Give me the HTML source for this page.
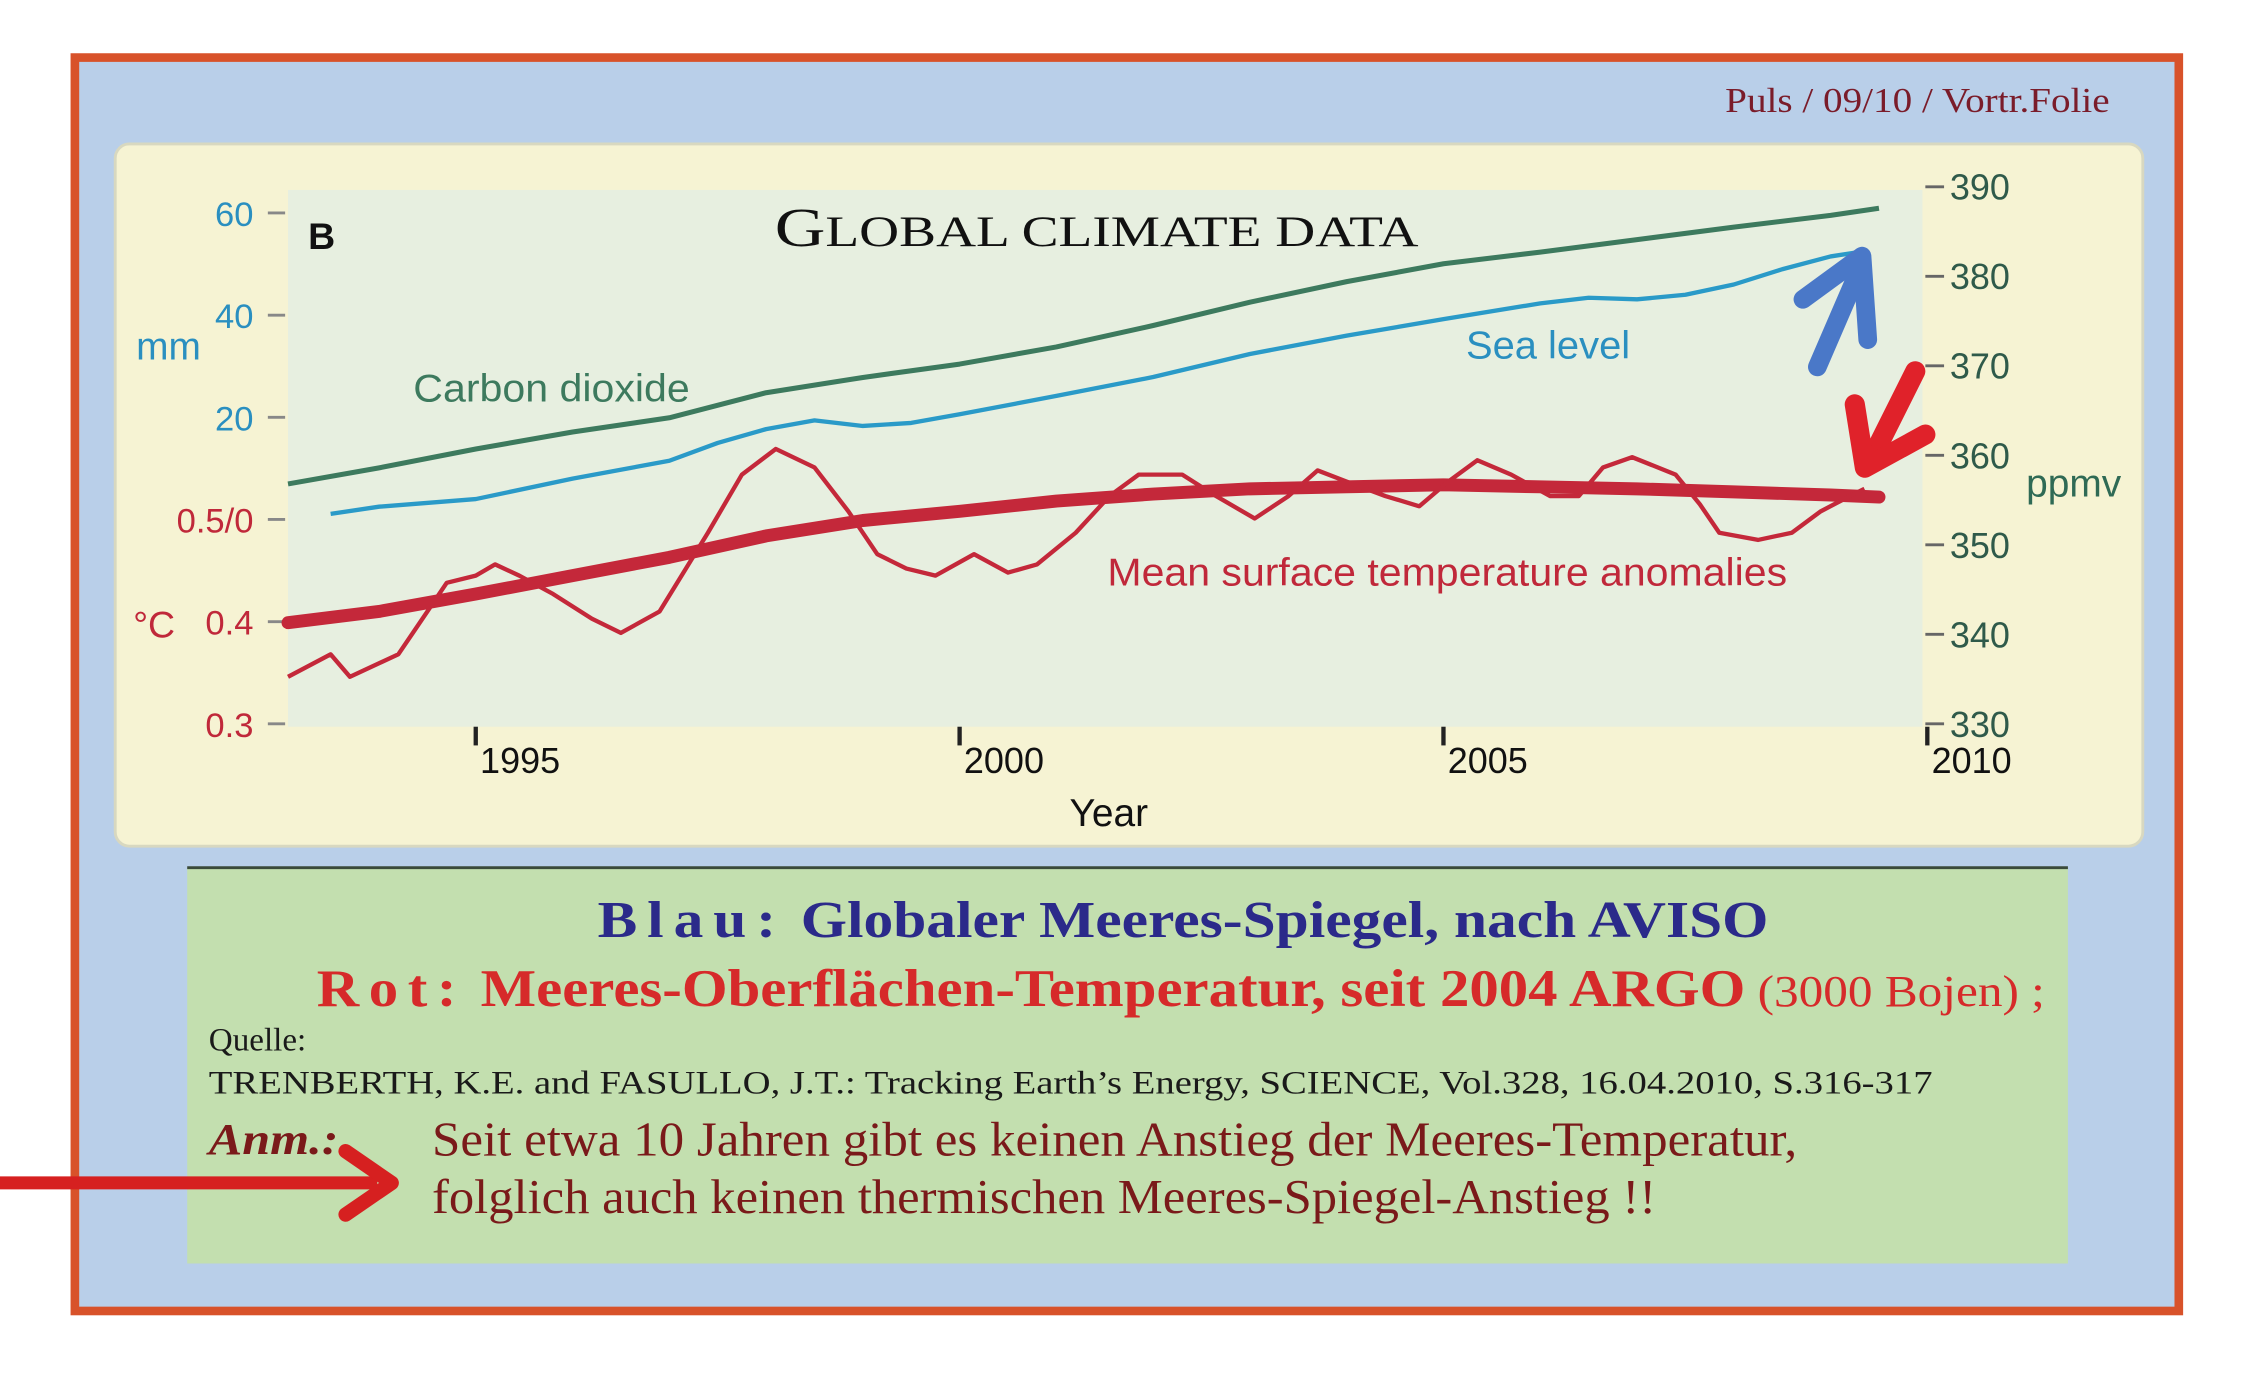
<!DOCTYPE html>
<html><head><meta charset="utf-8">
<style>
html,body{margin:0;padding:0;background:#fff;}
svg{display:block;}
.ser{font-family:"Liberation Serif",serif;}
.san{font-family:"Liberation Sans",sans-serif;}
</style></head>
<body>
<svg id="root" width="2258" height="1393" viewBox="0 0 1568 968" preserveAspectRatio="none" xmlns="http://www.w3.org/2000/svg">
  <rect x="0" y="0" width="1568" height="968" fill="#ffffff"/>
  <rect x="52" y="40" width="1461" height="871" fill="#b9cfe9" stroke="#d8522a" stroke-width="6"/>
  <text x="1465" y="78" text-anchor="end" class="ser" font-size="24" fill="#7a1c2a" textLength="267" lengthAdjust="spacingAndGlyphs">Puls / 09/10 / Vortr.Folie</text>

  <rect x="80" y="100" width="1408" height="488" rx="10" fill="#f6f3d3" stroke="#d8d8c0" stroke-width="2"/>
  <rect x="200" y="132" width="1135" height="373" fill="#e7efe0"/>
  <g id="axes"></g>
  <g id="marks"></g>

  <text x="538" y="171" class="ser" fill="#111" textLength="447" lengthAdjust="spacingAndGlyphs"><tspan font-size="38">G</tspan><tspan font-size="30">LOBAL CLIMATE DATA</tspan></text>
  <text x="214" y="173" class="san" font-size="26" font-weight="bold" fill="#111">B</text>
  <text x="383" y="279" text-anchor="middle" class="san" font-size="27" fill="#3d7a5e" textLength="192" lengthAdjust="spacingAndGlyphs">Carbon dioxide</text>
  <text x="1075" y="249" text-anchor="middle" class="san" font-size="27" fill="#2a8fc0" textLength="114" lengthAdjust="spacingAndGlyphs">Sea level</text>
  <text x="1005" y="407" text-anchor="middle" class="san" font-size="27" fill="#c0283a" textLength="472" lengthAdjust="spacingAndGlyphs">Mean surface temperature anomalies</text>
  <text x="117" y="250" text-anchor="middle" class="san" font-size="27" fill="#2a8fc0">mm</text>
  <text x="107" y="443" text-anchor="middle" class="san" font-size="26" fill="#c0283a">°C</text>
  <text x="1440" y="345" text-anchor="middle" class="san" font-size="27" fill="#2f6a55">ppmv</text>
  <text x="770" y="574" text-anchor="middle" class="san" font-size="27" fill="#111">Year</text>

  <g>
    <line x1="1262" y1="255" x2="1290" y2="190" stroke="#4a78c8" stroke-width="13" stroke-linecap="round"/>
    <polyline points="1252,208 1293,178 1297,236" fill="none" stroke="#4a78c8" stroke-width="13" stroke-linecap="round" stroke-linejoin="round"/>
  </g>
  <g>
    <line x1="1330" y1="258" x2="1298" y2="322" stroke="#e0222a" stroke-width="14" stroke-linecap="round"/>
    <polyline points="1288,281 1295,325 1337,302" fill="none" stroke="#e0222a" stroke-width="14" stroke-linecap="round" stroke-linejoin="round"/>
  </g>

  <rect x="130" y="603" width="1306" height="275" fill="#c3dfaf"/>
  <line x1="130" y1="603" x2="1436" y2="603" stroke="#3a4a3a" stroke-width="2"/>
  <text x="415" y="651" class="ser" font-size="36" font-weight="bold" fill="#2b2a8a" textLength="813" lengthAdjust="spacingAndGlyphs"><tspan letter-spacing="6">Blau:</tspan><tspan>  Globaler Meeres-Spiegel, nach AVISO</tspan></text>
  <text x="220" y="699" class="ser" font-size="37" fill="#d62a2a" textLength="1200" lengthAdjust="spacingAndGlyphs"><tspan font-weight="bold" letter-spacing="6">Rot:</tspan><tspan font-weight="bold"> Meeres-Oberflächen-Temperatur, seit 2004 ARGO</tspan><tspan font-size="31"> (3000 Bojen) ;</tspan></text>
  <text x="145" y="730" class="ser" font-size="23" fill="#1a1a1a">Quelle:</text>
  <text x="145" y="760" class="ser" font-size="23" fill="#1a1a1a" textLength="1197" lengthAdjust="spacingAndGlyphs">TRENBERTH, K.E. and FASULLO, J.T.:  Tracking Earth’s Energy, SCIENCE, Vol.328, 16.04.2010, S.316-317</text>
  <text x="145" y="802" class="ser" font-size="31" font-weight="bold" font-style="italic" fill="#7a1a1a" textLength="90" lengthAdjust="spacingAndGlyphs">Anm.:</text>
  <text x="300" y="803" class="ser" font-size="34" fill="#7a1a1a" textLength="948" lengthAdjust="spacingAndGlyphs">Seit etwa 10 Jahren gibt es keinen Anstieg der Meeres-Temperatur,</text>
  <text x="300" y="843" class="ser" font-size="34" fill="#7a1a1a" textLength="850" lengthAdjust="spacingAndGlyphs">folglich auch keinen thermischen Meeres-Spiegel-Anstieg !!</text>
  <g>
    <line x1="0" y1="822" x2="262" y2="822" stroke="#d62020" stroke-width="9"/>
    <polyline points="240,800 272,822 240,844" fill="none" stroke="#d62020" stroke-width="10" stroke-linejoin="round" stroke-linecap="round"/>
  </g>
</svg>
<script>
const NS='http://www.w3.org/2000/svg';
// ---- data ----
const co2Years=[1993.06,1994,1995,1996,1997,1998,1999,2000,2001,2002,2003,2004,2005,2006,2007,2008,2009,2009.5];
const co2Values=[356.8,358.6,360.7,362.6,364.2,367.0,368.7,370.2,372.1,374.5,377.1,379.4,381.4,382.7,384.1,385.5,386.8,387.6];
const seaYears=[1993.5,1994,1995,1996,1997,1997.5,1998,1998.5,1999,1999.5,2000,2001,2002,2003,2004,2005,2006,2006.5,2007,2007.5,2008,2008.5,2009,2009.28];
const seaValues=[1.1,2.5,4.0,8.0,11.5,15.0,17.7,19.4,18.3,18.9,20.6,24.2,27.9,32.4,36.0,39.2,42.3,43.4,43.1,44.0,46.0,49.0,51.5,52.3];
const tempYears=[1993.06,1993.5,1993.7,1994.2,1994.5,1994.7,1995,1995.2,1995.45,1995.8,1996.2,1996.5,1996.9,1997.4,1997.75,1998.1,1998.5,1998.85,1999.15,1999.45,1999.75,2000.15,2000.5,2000.8,2001.2,2001.55,2001.85,2002.3,2002.65,2003.05,2003.4,2003.7,2004,2004.4,2004.75,2005.05,2005.35,2005.7,2006.1,2006.4,2006.65,2006.95,2007.4,2007.65,2007.85,2008.25,2008.6,2008.9,2009.2,2009.35];
const tempValues=[0.346,0.368,0.346,0.368,0.410,0.438,0.445,0.456,0.445,0.427,0.403,0.389,0.410,0.487,0.544,0.569,0.551,0.508,0.466,0.452,0.445,0.466,0.448,0.456,0.487,0.523,0.544,0.544,0.523,0.501,0.523,0.548,0.537,0.523,0.513,0.537,0.558,0.544,0.523,0.523,0.551,0.561,0.544,0.515,0.487,0.480,0.487,0.508,0.523,0.530];
const trendYears=[1993.06,1994,1995,1996,1997,1998,1999,2000,2001,2002,2003,2004,2005,2006,2007,2008,2009,2009.5];
const trendValues=[0.399,0.410,0.427,0.445,0.463,0.484,0.499,0.508,0.518,0.525,0.530,0.532,0.534,0.532,0.530,0.527,0.524,0.522];
const mmTicks=[0,20,40,60];
const degTicks=[0.3,0.4];
const ppmTicks=[330,340,350,360,370,380,390];
const yearTicks=[1995,2000,2005,2010];
// ---- scales ----
function xs(y){return 200+(y-1993.06)*67.2;}
function ymm(v){return 361-v*3.55;}
function ydeg(v){return 503-(v-0.3)*710;}
function yppm(v){return 503-(v-330)*6.22;}
function mk(tag,attrs,parent){const e=document.createElementNS(NS,tag);for(const k in attrs)e.setAttribute(k,attrs[k]);parent.appendChild(e);return e;}
const axes=document.getElementById('axes'), marks=document.getElementById('marks');
mmTicks.forEach(v=>{
  const y=ymm(v);
  const t=mk('line',{x1:186,y1:y,x2:198,y2:y,stroke:'#888','stroke-width':2},axes);
  
  
  const l=mk('text',{x:176,y:y+9,'text-anchor':'end','font-size':24,fill:v===0?'#c0283a':'#2a8fc0','font-family':'Liberation Sans, sans-serif'},axes);
  l.textContent=v===0?'0.5/0':String(v);
  
  
});
degTicks.forEach(v=>{
  const y=ydeg(v);
  const t=mk('line',{x1:186,y1:y,x2:198,y2:y,stroke:'#888','stroke-width':2},axes);
  
  
  const l=mk('text',{x:176,y:y+9,'text-anchor':'end','font-size':24,fill:'#c0283a','font-family':'Liberation Sans, sans-serif'},axes);
  l.textContent=v.toFixed(1);
  
  
});
ppmTicks.forEach(v=>{
  const y=yppm(v);
  const t=mk('line',{x1:1337,y1:y,x2:1350,y2:y,stroke:'#666','stroke-width':2},axes);
  
  
  const l=mk('text',{x:1354,y:y+9,'font-size':25,fill:'#2f5a4a','font-family':'Liberation Sans, sans-serif'},axes);
  l.textContent=String(v);
  
  
});
yearTicks.forEach(v=>{
  const x=xs(v);
  const t=mk('line',{x1:x,y1:505,x2:x,y2:518,stroke:'#222','stroke-width':3},axes);
  
  
  const l=mk('text',{x:x+3,y:537,'font-size':25,fill:'#111','font-family':'Liberation Sans, sans-serif'},axes);
  l.textContent=String(v);
  
  
});
function path(xsArr,ysArr,fx,fy){return xsArr.map((x,i)=>(i?'L':'M')+fx(x).toFixed(1)+','+fy(ysArr[i]).toFixed(1)).join(' ');}
const co2=mk('path',{d:path(co2Years,co2Values,xs,yppm),fill:'none',stroke:'#3d7a5e','stroke-width':3.5,'stroke-linejoin':'round'},marks);


const sea=mk('path',{d:path(seaYears,seaValues,xs,ymm),fill:'none',stroke:'#2a9ac8','stroke-width':3,'stroke-linejoin':'round'},marks);


const trend=mk('path',{d:path(trendYears,trendValues,xs,ydeg),fill:'none',stroke:'#c4283a','stroke-width':9,'stroke-linecap':'round','stroke-linejoin':'round'},marks);


const temp=mk('path',{d:path(tempYears,tempValues,xs,ydeg),fill:'none',stroke:'#c4283a','stroke-width':3,'stroke-linejoin':'round'},marks);


</script>
</body></html>
